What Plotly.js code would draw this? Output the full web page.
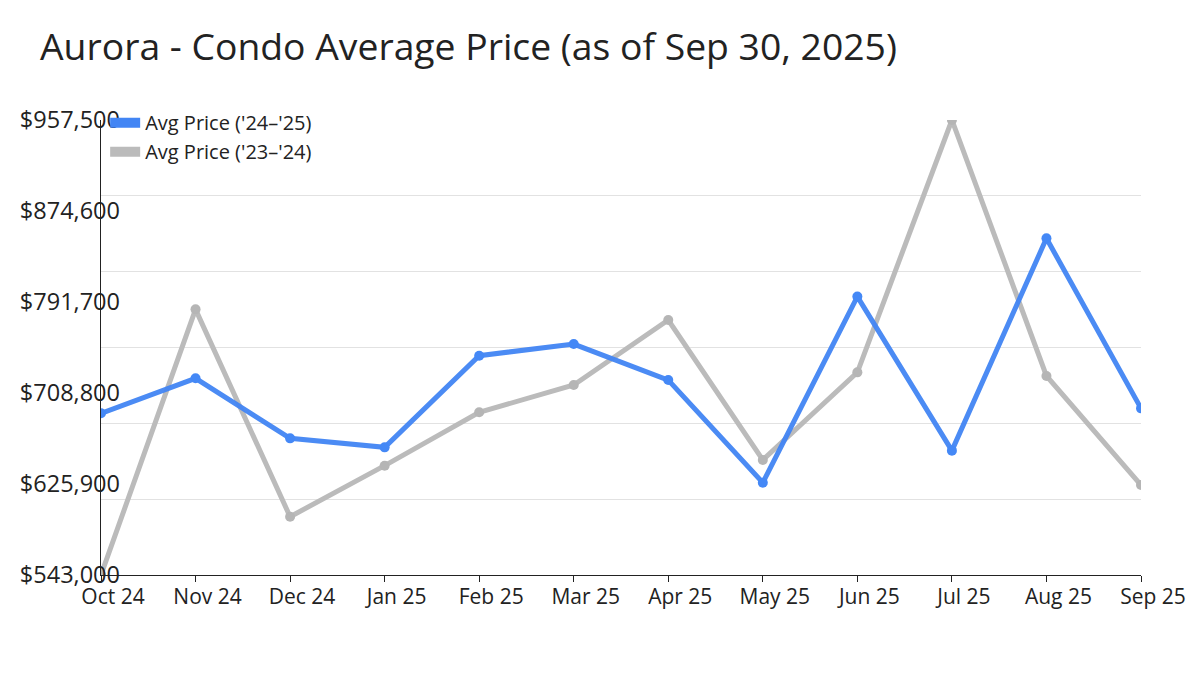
<!DOCTYPE html>
<html>
<head>
<meta charset="utf-8">
<script src="https://cdn.plot.ly/plotly-3.0.1.min.js"></script>
<style>html,body{margin:0;padding:0;background:#fff;}#chart{width:1200px;height:675px;}</style>
</head>
<body>
<div id="chart"></div>
<script>
const months = ["Oct 24","Nov 24","Dec 24","Jan 25","Feb 25","Mar 25","Apr 25","May 25","Jun 25","Jul 25","Aug 25","Sep 25"];
const avg2425 = [690300, 722200, 667500, 659300, 742800, 753400, 720600, 627100, 796600, 656300, 849700, 694800];
const avg2324 = [543000, 785000, 596100, 642600, 691200, 716100, 775300, 647800, 727600, 957500, 724300, 625000];
const yTickVals = [543000, 625900, 708800, 791700, 874600, 957500];
const yTickText = ["$543,000", "$625,900", "$708,800", "$791,700", "$874,600", "$957,500"];
const seriesNames = ["Avg Price ('24\u2013'25)", "Avg Price ('23\u2013'24)"];

const BLUE = "#4285F4";
const GRAY = "#BBBBBB";
const FONT = "Open Sans, sans-serif";

const yMin = yTickVals[0], yMax = yTickVals[yTickVals.length - 1];

const traces = [
  {x: months, y: avg2324, type: "scatter", mode: "lines+markers", showlegend: false,
   line: {color: GRAY, width: 5}, marker: {color: "#B5B5B5", size: 10}, hoverinfo: "x+y"},
  {x: months, y: avg2425, type: "scatter", mode: "lines+markers", showlegend: false,
   line: {color: BLUE, width: 5}, marker: {color: "#3B82F6", size: 10}, opacity: 0.95, hoverinfo: "x+y"},
  {x: [null], y: [null], type: "scatter", mode: "lines", name: seriesNames[0], line: {color: BLUE, width: 10}},
  {x: [null], y: [null], type: "scatter", mode: "lines", name: seriesNames[1], line: {color: GRAY, width: 10}},
  {x: [months[0]], y: [null], type: "scatter", yaxis: "y2", showlegend: false, hoverinfo: "skip"}
];

const layout = {
  width: 1200, height: 675,
  margin: {l: 101, r: 59, t: 120, b: 100},
  paper_bgcolor: "#fff", plot_bgcolor: "#fff",
  font: {family: FONT, color: "#222", size: 20},
  title: {text: "Aurora - Condo Average Price (as of Sep 30, 2025)", x: 40/1200, xanchor: "left",
          xref: "container", y: 628/675, yanchor: "middle", yref: "container",
          font: {family: FONT, size: 37.3, color: "#222"}},
  xaxis: {type: "category", range: [0, months.length - 1], showgrid: false, showline: true,
          linecolor: "#222", linewidth: 1, ticks: "outside", ticklen: 6, tickcolor: "#222",
          ticklabelshift: 12, ticklabelstandoff: -3,
          tickfont: {size: 21, color: "#222"}, zeroline: false, fixedrange: true},
  yaxis: {range: [yMin, yMax], showgrid: true, gridcolor: "#E2E2E2", gridwidth: 1,
          tick0: yMin, dtick: (yMax - yMin) / 6, showticklabels: false, ticks: "",
          showline: true, linecolor: "#222", linewidth: 1, zeroline: false, fixedrange: true},
  yaxis2: {overlaying: "y", side: "left", range: [yMin, yMax], showgrid: false, zeroline: false,
           tickmode: "array", tickvals: yTickVals, ticktext: yTickText, ticks: "",
           ticklabelstandoff: -20, tickfont: {size: 23.5, color: "#222"}, showline: false, fixedrange: true},
  legend: {x: 0.004, y: 1.037, xanchor: "left", yanchor: "top", bgcolor: "rgba(0,0,0,0)",
           font: {size: 20, color: "#222"}, tracegroupgap: 0},
  showlegend: true,
  hovermode: "closest"
};

Plotly.newPlot("chart", traces, layout, {displayModeBar: false, staticPlot: true});
</script>
</body>
</html>
